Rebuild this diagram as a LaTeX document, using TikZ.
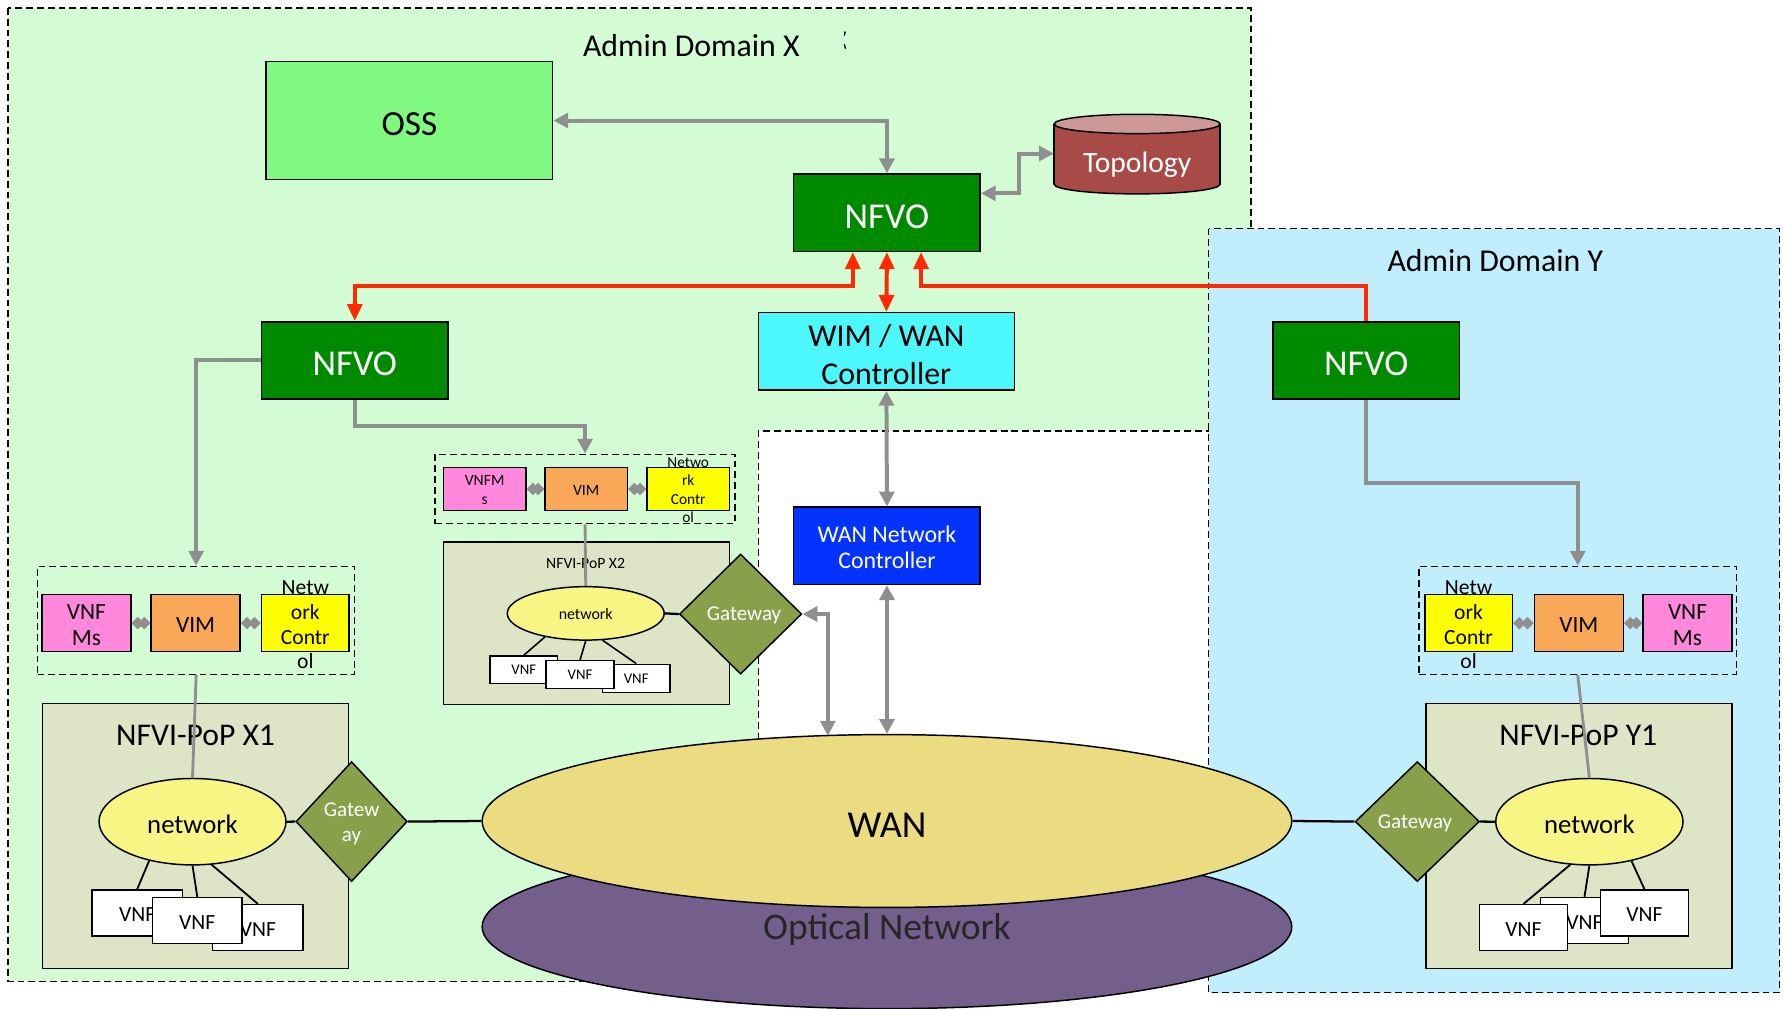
\documentclass[tikz,border=0pt]{standalone}
\usepackage{fontspec}
\setmainfont{Carlito}
\usetikzlibrary{arrows.meta,shapes.geometric,calc}
\definecolor{domX}{HTML}{D4FCD4}
\definecolor{domY}{HTML}{C1EEFC}
\definecolor{ossc}{HTML}{80F980}
\definecolor{nfvoc}{HTML}{008A00}
\definecolor{topob}{HTML}{A84B47}
\definecolor{topot}{HTML}{CD9898}
\definecolor{wimc}{HTML}{4DF8FC}
\definecolor{wancc}{HTML}{0433FF}
\definecolor{pinkc}{HTML}{FF88DC}
\definecolor{vimc}{HTML}{F8A856}
\definecolor{ncc}{HTML}{FFFF00}
\definecolor{popc}{HTML}{DEE5C7}
\definecolor{netc}{HTML}{F7F584}
\definecolor{gwc}{HTML}{89A04B}
\definecolor{wanfill}{HTML}{ECDC81}
\definecolor{optc}{HTML}{735E8C}
\definecolor{grayc}{HTML}{8F8F8F}
\definecolor{redc}{HTML}{FF2A00}
\newcommand\fsz[2]{\fontsize{#1pt}{#2pt}\selectfont}
\tikzset{
  gtip/.tip={Triangle[length=13pt,width=13pt]},
  rtip/.tip={Triangle[length=15pt,width=13pt]},
  dtip/.tip={Diamond[length=11pt,width=11pt]},
}
\begin{document}
\begin{tikzpicture}[x=1pt,y=-1pt,
  box/.style={draw=black,line width=1.3pt,inner sep=0pt},
  tx/.style={inner sep=0pt,align=center},
  dline/.style={draw=black,line width=1.2pt,dash pattern=on 6pt off 3.5pt},
  mgr/.style={dline,inner sep=0pt,minimum width=279pt,minimum height=95pt},
  nfvobox/.style={box,fill=nfvoc,minimum width=164pt,minimum height=68pt},
  nfvotx/.style={tx,text=white,yshift=-3.3pt,font=\fsz{32}{38}},
  bigpink/.style={box,fill=pinkc,minimum width=78pt,minimum height=50pt},
  bigvim/.style={box,fill=vimc,minimum width=78pt,minimum height=50pt},
  bignc/.style={box,fill=ncc,minimum width=77pt,minimum height=50pt},
  pop/.style={box,fill=popc,minimum width=269pt,minimum height=233pt},
  net/.style={draw=black,line width=1.3pt,fill=netc,ellipse,inner sep=0pt},
  gw/.style={draw=black,line width=1.3pt,fill=gwc,diamond,inner sep=0pt},
  vnf/.style={box,fill=white},
  vnftx/.style={tx,yshift=-1.5pt,font=\fsz{19}{22}},
  garrow/.style={draw=grayc,line width=3.5pt,gtip-gtip},
  garrowe/.style={draw=grayc,line width=3.5pt,-gtip},
  gthin/.style={draw=grayc,line width=2.5pt},
  gdia/.style={draw=grayc,line width=2pt,dtip-dtip},
  rline/.style={draw=redc,line width=3.5pt},
  bline/.style={draw=black,line width=2pt},
]
\useasboundingbox (0,0) rectangle (1568,887);
% domains
\draw[dline,fill=domX] (7,7) rectangle (1100,863);
\fill[white] (667,379) rectangle (1063,887);
\draw[dline] (667,660) -- (667,379) -- (1063,379);
\draw[dline,fill=domY] (1063,201) rectangle (1565,873);
\node[tx,font=\fsz{28}{32}] (admX) at (608,40) {Admin Domain X};
\node[tx,font=\fsz{28}{32}] (admY) at (1315,229) {Admin Domain Y};
\fill[black] (742.6,27.5) -- (744,28) -- (742.8,31.5) -- (742,31) -- cycle;
\fill[black] (742,39) -- (742.8,38.5) -- (744.2,42.5) -- (743,43) -- cycle;

% WAN and optical
\node[draw=black,line width=1.3pt,fill=optc,ellipse,inner sep=0pt,minimum width=712pt,minimum height=144pt] (opt) at (780,815) {};
\node[draw=black,line width=1.3pt,fill=wanfill,ellipse,inner sep=0pt,minimum width=712pt,minimum height=152pt] (wan) at (780,722) {};
\node[tx,yshift=-4pt,font=\fsz{33.5}{38}] (want) at (wan) {WAN};
\node[tx,font=\fsz{33}{38},text=black!85] (optt) at (780,817) {Optical Network};

% top level
\node[box,fill=ossc,minimum width=252pt,minimum height=104pt] (oss) at (360,106) {};
\node[tx,yshift=-3pt,font=\fsz{31}{36}] (osst) at (oss) {OSS};
\node[nfvobox] (nfvo) at (780,187) {};
\node[nfvotx] (nfvot) at (nfvo) {NFVO};
\node[nfvobox] (nfvoX) at (312,317) {};
\node[nfvotx] (nfvoXt) at (nfvoX) {NFVO};
\node[nfvobox] (nfvoY) at (1201.5,317) {};
\node[nfvotx] (nfvoYt) at (nfvoY) {NFVO};
\node[box,fill=wimc,minimum width=225pt,minimum height=68pt] (wim) at (779.5,309) {};
\node[tx,yshift=-2.5pt,font=\fsz{28}{33.4}] (wimt) at (wim) {WIM / WAN\\Controller};
\node[box,fill=wancc,minimum width=164pt,minimum height=68pt] (wanc) at (780,480) {};
\node[tx,yshift=-1.5pt,text=white,font=\fsz{21}{23}] (wanct) at (wanc) {WAN Network\\Controller};

% topology cylinder
\node[inner sep=0pt,minimum width=146pt,minimum height=70pt] (topo) at (1000,135) {};
\draw[line width=1.3pt,fill=topob] (1000,162) ellipse [x radius=73pt,y radius=8.5pt];
\fill[topob] (927,109) rectangle (1073,162);
\draw[line width=1.3pt] (927,109) -- (927,162) (1073,109) -- (1073,162);
\draw[line width=1.3pt,fill=topot] (1000,109) ellipse [x radius=73pt,y radius=8.5pt];
\node[tx,text=white,font=\fsz{26}{30}] (topot) at (1000,144.5) {Topology};

% manager X1
\node[mgr] (mgrX) at (172.5,545.5) {};
\node[bigpink] (vnfmX) at (76,548) {};
\node[tx,yshift=-2pt,font=\fsz{20.5}{23}] (vnfmXt) at (vnfmX) {VNF\\Ms};
\node[bigvim] (vimX) at (172,548) {};
\node[tx,yshift=-2pt,font=\fsz{20.5}{24}] (vimXt) at (vimX) {VIM};
\node[bignc] (ncX) at (268.5,548) {};
\node[tx,yshift=-1.5pt,font=\fsz{19}{21.7}] (ncXt) at (ncX) {Netw\\ork\\Contr\\ol};

% manager X2
\node[dline,inner sep=0pt,minimum width=264pt,minimum height=61pt] (mgrX2) at (514.5,430) {};
\node[box,fill=pinkc,minimum width=72.6pt,minimum height=37.5pt] (vnfmX2) at (426.2,430) {};
\node[tx,yshift=-1pt,font=\fsz{13.8}{16}] (vnfmX2t) at (vnfmX2) {VNFM\\s};
\node[box,fill=vimc,minimum width=72.4pt,minimum height=37.5pt] (vimX2) at (515.5,430) {};
\node[tx,yshift=-1pt,font=\fsz{13.8}{16}] (vimX2t) at (vimX2) {VIM};
\node[box,fill=ncc,minimum width=72.4pt,minimum height=37.5pt] (ncX2) at (605.2,430) {};
\node[tx,yshift=-1pt,font=\fsz{13.5}{16.3}] (ncX2t) at (ncX2) {Netwo\\rk\\Contr\\ol};

% manager Y
\node[mgr] (mgrY) at (1387.5,545.5) {};
\node[bignc] (ncY) at (1291.5,548) {};
\node[tx,yshift=-1.5pt,font=\fsz{19}{21.7}] (ncYt) at (ncY) {Netw\\ork\\Contr\\ol};
\node[bigvim] (vimY) at (1388.5,548) {};
\node[tx,yshift=-2pt,font=\fsz{20.5}{24}] (vimYt) at (vimY) {VIM};
\node[bigpink] (vnfmY) at (1484,548) {};
\node[tx,yshift=-2pt,font=\fsz{20.5}{23}] (vnfmYt) at (vnfmY) {VNF\\Ms};

% NFVI-PoP X1
\node[pop] (popX) at (171.8,735.3) {};
\node[tx,font=\fsz{27.8}{32}] (popXt) at (172,647) {NFVI-PoP X1};
\node[net,minimum width=164.4pt,minimum height=76pt] (netX) at (169.3,722.6) {};
\node[tx,yshift=-2pt,font=\fsz{23.5}{27}] (netXt) at (netX) {network};
\node[gw,minimum width=98pt,minimum height=105.5pt] (gwX) at (309.2,722.5) {};
\node[tx,yshift=-2pt,text=white,font=\fsz{18.5}{22.5}] (gwXt) at (gwX) {Gatew\\ay};
\node[vnf,minimum width=79.4pt,minimum height=40.4pt] (vnfXa) at (120.6,802.9) {};
\node[vnftx] (vnfXat) at (vnfXa) {VNF};
\node[vnf,minimum width=79.5pt,minimum height=40.5pt] (vnfXc) at (226.8,815.8) {};
\node[vnftx] (vnfXct) at (vnfXc) {VNF};
\node[vnf,minimum width=79pt,minimum height=40.5pt] (vnfXb) at (173.5,809.6) {};
\node[vnftx] (vnfXbt) at (vnfXb) {VNF};

% NFVI-PoP X2
\node[box,fill=popc,minimum width=251.5pt,minimum height=143pt] (popX2) at (515.6,548) {};
\node[tx,font=\fsz{13.8}{16}] (popX2t) at (515,495.4) {NFVI-PoP X2};
\node[net,minimum width=138pt,minimum height=47pt] (netX2) at (515.1,539.4) {};
\node[tx,yshift=-1pt,font=\fsz{14}{16}] (netX2t) at (netX2) {network};
\node[gw,minimum width=107.5pt,minimum height=105.6pt] (gwX2) at (651.3,540) {};
\node[tx,xshift=3pt,yshift=-1.5pt,text=white,font=\fsz{18.5}{22}] (gwX2t) at (gwX2) {Gateway};
\node[vnf,minimum width=59.5pt,minimum height=24.1pt] (vnfX2a) at (460.6,589) {};
\node[tx,font=\fsz{13}{15}] (vnfX2at) at (vnfX2a) {VNF};
\node[vnf,minimum width=59.5pt,minimum height=24.6pt] (vnfX2c) at (559.5,596.5) {};
\node[tx,font=\fsz{13}{15}] (vnfX2ct) at (vnfX2c) {VNF};
\node[vnf,minimum width=59.8pt,minimum height=24.3pt] (vnfX2b) at (510.1,593.2) {};
\node[tx,font=\fsz{13}{15}] (vnfX2bt) at (vnfX2b) {VNF};

% NFVI-PoP Y1
\node[pop] (popY) at (1388.6,735.3) {};
\node[tx,font=\fsz{27.8}{32}] (popYt) at (1388,647) {NFVI-PoP Y1};
\node[net,minimum width=164.7pt,minimum height=76pt] (netY) at (1397.7,722.6) {};
\node[tx,yshift=-2pt,font=\fsz{23.5}{27}] (netYt) at (netY) {network};
\node[gw,minimum width=109.3pt,minimum height=105.5pt] (gwY) at (1246.4,722.5) {};
\node[tx,xshift=-2pt,yshift=-1.5pt,text=white,font=\fsz{18.5}{22}] (gwYt) at (gwY) {Gateway};
\node[vnf,minimum width=77.1pt,minimum height=40.5pt] (vnfYb) at (1393.4,809.6) {};
\node[vnftx] (vnfYbt) at (vnfYb) {VNF};
\node[vnf,minimum width=77.1pt,minimum height=40.5pt] (vnfYa) at (1339.8,815.8) {};
\node[vnftx] (vnfYat) at (vnfYa) {VNF};
\node[vnf,minimum width=77.1pt,minimum height=40.4pt] (vnfYc) at (1446.2,802.9) {};
\node[vnftx] (vnfYct) at (vnfYc) {VNF};

\coordinate (wanin) at (728,647);

% black links
\draw[bline] (netX.east) -- (gwX.west);
\draw[bline] (gwX.east) -- (wan.west);
\draw[bline] (wan.east) -- (gwY.west);
\draw[bline] (gwY.east) -- (netY.west);
\draw[bline] (netX2.east) -- (gwX2.west);
\draw[line width=1.6pt] (netX.222) -- (vnfXa.north);
\draw[line width=1.6pt] (netX.south) -- (vnfXb.north);
\draw[line width=1.6pt] (netX.294) -- (vnfXc.north);
\draw[line width=1.4pt] (netX2.210) -- (vnfX2a.north);
\draw[line width=1.4pt] (netX2.south) -- (vnfX2b.north);
\draw[line width=1.4pt] (netX2.302) -- (vnfX2c.north);
\draw[line width=1.6pt] (netY.246) -- (vnfYa.north);
\draw[line width=1.6pt] (netY.south) -- (vnfYb.north);
\draw[line width=1.6pt] (netY.317) -- (vnfYc.north);

% gray connectors
\draw[garrow] (oss.east) -| (nfvo.north);
\draw[garrow] (topo.west) -- (896,135) -- (896,170) -- (nfvo.east |- 0,170);
\draw[garrowe] (nfvoX.west) -| (mgrX.north);
\draw[garrowe] (nfvoX.south) |- ([yshift=24pt]mgrX2.north) -- (mgrX2.north);
\draw[garrowe] (nfvoY.south) |- ([yshift=73pt]mgrY.north) -- (mgrY.north);
\draw[garrow] (wim.south) -- (wanc.north);
\draw[garrow] (wanc.south) -- (wan.north);
\draw[garrow] (gwX2.east) -| (wanin);
\draw[gthin] (mgrX.south) -- (netX.north);
\draw[gthin] (mgrX2.south) -- (netX2.north);
\draw[gthin] (mgrY.south) -- (netY.north);
\draw[gdia] (vnfmX.east) -- (vimX.west);
\draw[gdia] (vimX.east) -- (ncX.west);
\draw[gdia] (vnfmX2.east) -- (vimX2.west);
\draw[gdia] (vimX2.east) -- (ncX2.west);
\draw[gdia] (ncY.east) -- (vimY.west);
\draw[gdia] (vimY.east) -- (vnfmY.west);

% red connectors
\draw[rline,rtip-rtip] ([xshift=-30pt]nfvo.south) |- ([yshift=31pt]nfvoX.north) -- (nfvoX.north);
\draw[rline,rtip-rtip] (nfvo.south) -- (wim.north);
\draw[rline,rtip-] ([xshift=30pt]nfvo.south) |- ([yshift=31pt]nfvoY.north) -- (nfvoY.north);
\end{tikzpicture}
\end{document}
